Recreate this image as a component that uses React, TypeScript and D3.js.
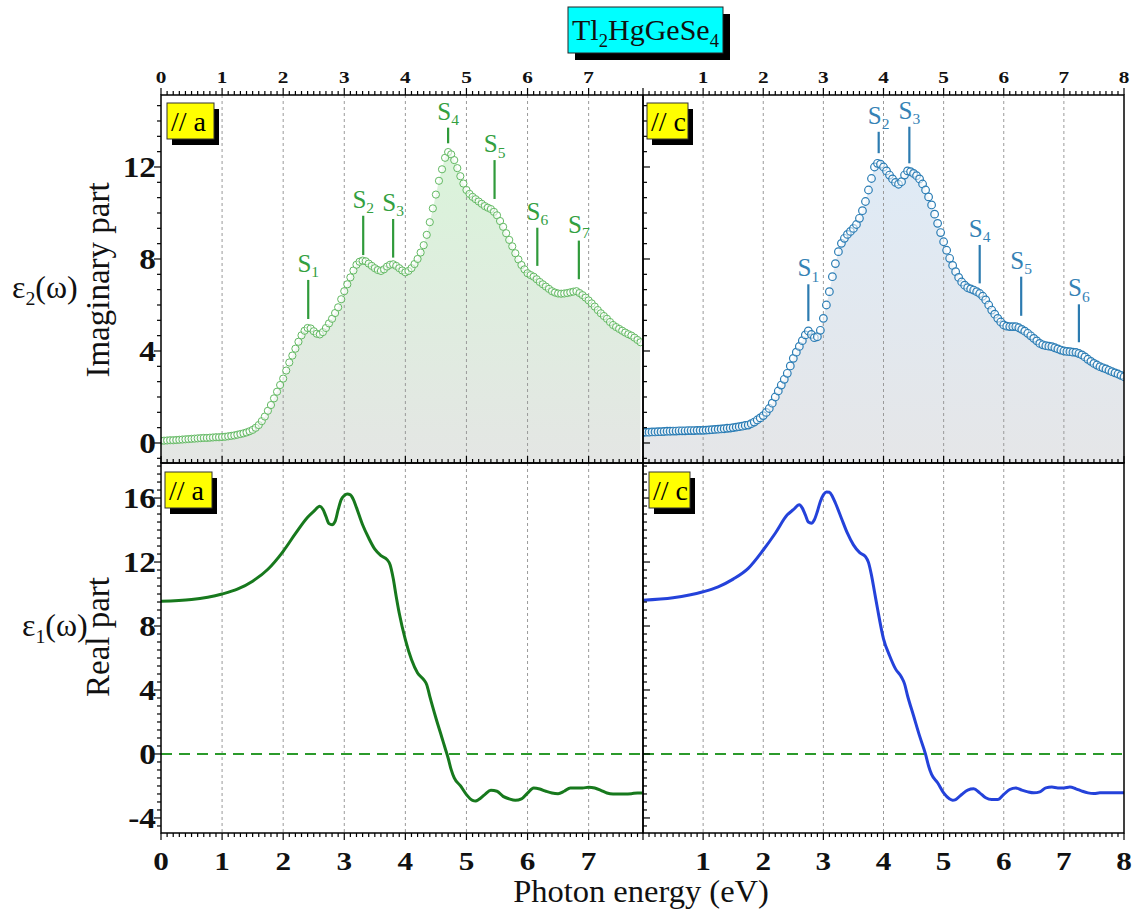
import * as d3 from 'd3';
import { useEffect, useRef } from 'react';

const W = 1146;
const H = 911;
const serif = '"Liberation Serif", "Times New Roman", Times, serif';

// eps2 sampled every 0.05 eV from 0
const e2Step = 0.05;
const eps2A = [
  0.10, 0.10, 0.11, 0.12, 0.12, 0.13, 0.14, 0.15, 0.16, 0.17,
  0.18, 0.19, 0.20, 0.21, 0.22, 0.22, 0.23, 0.24, 0.25, 0.25,
  0.26, 0.27, 0.29, 0.31, 0.33, 0.36, 0.39, 0.42, 0.46, 0.51,
  0.57, 0.66, 0.78, 0.95, 1.15, 1.40, 1.65, 1.94, 2.23, 2.52,
  2.80, 3.15, 3.50, 3.80, 4.10, 4.40, 4.68, 4.88, 5.00, 4.98,
  4.86, 4.75, 4.72, 4.82, 5.00, 5.20, 5.40, 5.65, 5.90, 6.25,
  6.60, 6.90, 7.20, 7.50, 7.75, 7.88, 7.93, 7.90, 7.80, 7.70,
  7.60, 7.52, 7.48, 7.55, 7.67, 7.75, 7.77, 7.70, 7.60, 7.50,
  7.42, 7.48, 7.60, 7.78, 8.00, 8.28, 8.60, 9.05, 9.60, 10.20,
  10.80, 11.40, 11.90, 12.40, 12.65, 12.55, 12.30, 11.95, 11.60, 11.28,
  11.00, 10.83, 10.70, 10.60, 10.50, 10.40, 10.30, 10.23, 10.17, 10.05,
  9.90, 9.65, 9.40, 9.12, 8.83, 8.55, 8.25, 7.98, 7.74, 7.55,
  7.38, 7.30, 7.23, 7.12, 7.00, 6.90, 6.80, 6.70, 6.60, 6.54,
  6.50, 6.49, 6.50, 6.52, 6.55, 6.58, 6.60, 6.52, 6.43, 6.32,
  6.20, 6.07, 5.93, 5.78, 5.64, 5.52, 5.40, 5.26, 5.13, 5.04,
  4.96, 4.88, 4.80, 4.73, 4.67, 4.58, 4.48, 4.38,
];
const eps2C = [
  0.46, 0.47, 0.47, 0.48, 0.48, 0.49, 0.49, 0.50, 0.51, 0.51,
  0.52, 0.52, 0.53, 0.53, 0.53, 0.54, 0.54, 0.54, 0.55, 0.55,
  0.55, 0.56, 0.57, 0.58, 0.59, 0.60, 0.61, 0.62, 0.64, 0.65,
  0.67, 0.69, 0.71, 0.73, 0.76, 0.78, 0.84, 0.91, 1.00, 1.09,
  1.19, 1.33, 1.50, 1.73, 2.00, 2.26, 2.52, 2.77, 3.03, 3.35,
  3.68, 3.95, 4.20, 4.45, 4.70, 4.87, 4.72, 4.58, 4.62, 4.90,
  5.42, 6.00, 6.58, 7.23, 7.80, 8.32, 8.68, 8.90, 9.07, 9.20,
  9.33, 9.50, 9.77, 10.10, 10.50, 11.00, 11.50, 12.00, 12.16, 12.12,
  12.00, 11.83, 11.65, 11.48, 11.33, 11.25, 11.36, 11.65, 11.83, 11.80,
  11.72, 11.62, 11.48, 11.26, 11.00, 10.70, 10.35, 9.95, 9.55, 9.15,
  8.75, 8.38, 8.03, 7.72, 7.45, 7.20, 7.00, 6.86, 6.75, 6.70,
  6.65, 6.58, 6.50, 6.38, 6.22, 6.00, 5.78, 5.60, 5.42, 5.26,
  5.13, 5.08, 5.06, 5.06, 5.06, 5.01, 4.94, 4.86, 4.77, 4.66,
  4.55, 4.44, 4.33, 4.27, 4.23, 4.21, 4.19, 4.14, 4.09, 4.04,
  4.00, 3.98, 3.97, 3.95, 3.94, 3.89, 3.83, 3.74, 3.64, 3.55,
  3.46, 3.39, 3.32, 3.27, 3.22, 3.16, 3.10, 3.05, 3.00, 2.94,
  2.88,
];

// eps1
const eps1AE = [0, 0.5, 1, 1.25, 1.5, 1.75, 2, 2.2, 2.4, 2.5, 2.6, 2.65, 2.7, 2.75, 2.8, 2.85, 2.9, 2.95, 3, 3.05,
  3.1, 3.15, 3.2, 3.3, 3.4, 3.5, 3.6, 3.7, 3.75, 3.8, 3.85, 3.9, 4, 4.1, 4.2, 4.3, 4.35, 4.4, 4.5, 4.6,
  4.65, 4.7, 4.75, 4.8, 4.9, 5, 5.1, 5.15, 5.2, 5.3, 5.4, 5.5, 5.6, 5.7, 5.8, 5.9, 6, 6.1, 6.2, 6.3,
  6.4, 6.5, 6.6, 6.7, 6.8, 6.9, 7, 7.1, 7.2, 7.3, 7.4, 7.5, 7.6, 7.7, 7.8, 7.88];
const eps1AV = [9.54, 9.65, 10.0, 10.3, 10.8, 11.55, 12.67, 13.77, 14.8, 15.17, 15.48, 15.3, 14.85, 14.4, 14.33, 14.54, 15.27, 15.9, 16.15, 16.25,
  16.2, 15.9, 15.4, 14.33, 13.5, 12.8, 12.4, 12.15, 11.83, 11.0, 9.85, 8.8, 7.15, 5.9, 5.06, 4.65, 4.33, 3.6, 2.25, 1.0,
  0.37, -0.25, -0.98, -1.5, -1.98, -2.54, -2.9, -2.94, -2.85, -2.54, -2.27, -2.33, -2.65, -2.81, -2.9, -2.81, -2.44, -2.13, -2.19, -2.33,
  -2.44, -2.48, -2.33, -2.13, -2.13, -2.13, -2.08, -2.13, -2.27, -2.44, -2.5, -2.5, -2.5, -2.48, -2.44, -2.44];
const eps1CE = [0, 0.5, 1, 1.25, 1.5, 1.75, 2, 2.2, 2.4, 2.5, 2.6, 2.65, 2.7, 2.75, 2.8, 2.85, 2.9, 2.95, 3, 3.05,
  3.1, 3.15, 3.2, 3.3, 3.4, 3.5, 3.6, 3.7, 3.75, 3.8, 3.85, 3.9, 4, 4.1, 4.2, 4.3, 4.35, 4.4, 4.5, 4.6,
  4.7, 4.75, 4.8, 4.9, 5, 5.1, 5.15, 5.2, 5.3, 5.4, 5.5, 5.6, 5.7, 5.8, 5.9, 6, 6.1, 6.2, 6.3, 6.4,
  6.5, 6.6, 6.7, 6.8, 6.9, 7, 7.1, 7.2, 7.3, 7.4, 7.5, 7.6, 7.7, 7.8, 8];
const eps1CV = [9.61, 9.76, 10.14, 10.45, 10.93, 11.6, 12.75, 13.8, 14.95, 15.27, 15.58, 15.37, 14.95, 14.5, 14.43, 14.64, 15.16, 15.79, 16.2, 16.38,
  16.36, 16.1, 15.69, 14.74, 13.8, 13.07, 12.6, 12.34, 11.98, 11.18, 10.14, 9.09, 7.2, 6.16, 5.32, 4.8, 4.38, 3.64, 2.39, 1.13,
  -0.02, -0.75, -1.28, -1.8, -2.43, -2.81, -2.89, -2.85, -2.53, -2.26, -2.18, -2.43, -2.74, -2.85, -2.85, -2.53, -2.22, -2.12, -2.26, -2.37,
  -2.43, -2.37, -2.12, -2.07, -2.12, -2.12, -2.07, -2.18, -2.32, -2.43, -2.47, -2.43, -2.43, -2.43, -2.43];

// S peak markers: energy, top and bottom of marker line (eps2 units)
const peaksA = [2.41, 3.31, 3.80, 4.70, 5.46, 6.16, 6.84];
const peakTopA = [7.09, 9.88, 9.74, 13.71, 12.30, 9.36, 8.80];
const peakBotA = [5.39, 8.17, 8.06, 13.03, 10.61, 7.70, 7.12];
const peaksC = [2.75, 3.92, 4.43, 5.60, 6.29, 7.25];
const peakTopC = [6.90, 13.53, 13.75, 8.61, 7.23, 6.03];
const peakBotC = [5.30, 12.60, 12.16, 6.94, 5.53, 4.38];

const xTicksA = [0, 1, 2, 3, 4, 5, 6, 7];
const xTicksC = [1, 2, 3, 4, 5, 6, 7, 8];
const gridX = [1, 2, 3, 4, 5, 6, 7];
const yTicksTop = [0, 4, 8, 12];
const yTicksBot = [-4, 0, 4, 8, 12, 16];

function richText(g: any, x: number, y: number, parts: [string, boolean][], size: number, fill: string, anchor = 'start') {
  const t = g.append('text')
    .attr('x', x).attr('y', y)
    .attr('font-family', serif).attr('font-size', size)
    .attr('fill', fill).attr('text-anchor', anchor);
  let low = false;
  const shift = size * 0.22;
  parts.forEach(([s, sub]) => {
    const sp = t.append('tspan').text(s);
    if (sub) {
      sp.attr('font-size', size * 0.62).attr('dy', low ? 0 : shift);
      low = true;
    } else {
      sp.attr('dy', low ? -shift : 0);
      low = false;
    }
  });
  return t;
}

function App() {
  const ref = useRef<SVGSVGElement>(null);

  useEffect(() => {
    const svg = d3.select(ref.current);
    svg.selectAll('*').remove();

    const xA = d3.scaleLinear().domain([0, 7.89]).range([161, 643]);
    const xC = d3.scaleLinear().domain([0, 8]).range([643, 1124]);
    const yTop = d3.scaleLinear().domain([-0.87, 15.13]).range([463, 95]);
    const yBot = d3.scaleLinear().domain([-4.94, 18.19]).range([833, 463]);

    const defs = svg.append('defs');
    const grad = (id: string, c1: string, c2: string) => {
      const lg = defs.append('linearGradient').attr('id', id)
        .attr('gradientUnits', 'userSpaceOnUse')
        .attr('x1', 0).attr('x2', 0).attr('y1', 120).attr('y2', 463);
      lg.append('stop').attr('offset', '0%').attr('stop-color', c1);
      lg.append('stop').attr('offset', '100%').attr('stop-color', c2);
    };
    grad('gA', '#d9f5d9', '#e4e6e4');
    grad('gC', '#deebf8', '#e5e6e8');

    const clip = (id: string, x: any, y: any) => {
      defs.append('clipPath').attr('id', id).append('rect')
        .attr('x', x.range()[0]).attr('y', y.range()[1])
        .attr('width', x.range()[1] - x.range()[0])
        .attr('height', y.range()[0] - y.range()[1]);
    };
    clip('cTA', xA, yTop);
    clip('cTC', xC, yTop);
    clip('cBA', xA, yBot);
    clip('cBC', xC, yBot);

    const grid = (g: any, x: any, y: any) => {
      g.selectAll('line.grid').data(gridX).enter().append('line')
        .attr('x1', (d: number) => x(d)).attr('x2', (d: number) => x(d))
        .attr('y1', y.range()[1]).attr('y2', y.range()[0])
        .attr('stroke', '#9a9a9a').attr('stroke-width', 1)
        .attr('stroke-dasharray', '3 3');
    };

    const drawTop = (x: any, values: number[], o: any) => {
      const g = svg.append('g').attr('clip-path', `url(#${o.clip})`);
      const pts = values.map((v, i) => [i * e2Step, v]);
      const area = d3.area<number[]>()
        .x((d) => x(d[0])).y0(463).y1((d) => yTop(d[1]))
        .curve(d3.curveMonotoneX);
      g.append('path').datum(pts).attr('d', area).attr('fill', `url(#${o.grad})`);
      grid(g, x, yTop);
      g.selectAll('circle').data(pts).enter().append('circle')
        .attr('cx', (d: number[]) => x(d[0])).attr('cy', (d: number[]) => yTop(d[1]))
        .attr('r', o.r).attr('fill', '#ffffff').attr('fill-opacity', 0.55)
        .attr('stroke', o.stroke).attr('stroke-width', o.sw);

      const lg = svg.append('g');
      o.peaks.forEach((p: number, i: number) => {
        lg.append('line')
          .attr('x1', x(p)).attr('x2', x(p))
          .attr('y1', yTop(o.tops[i])).attr('y2', yTop(o.bots[i]))
          .attr('stroke', o.lineColor).attr('stroke-width', 2.2);
        richText(lg, x(p), yTop(o.tops[i]) - 8, [['S', false], [String(i + 1), true]], 25, o.labelColor, 'middle');
      });
    };

    drawTop(xA, eps2A, {
      clip: 'cTA', grad: 'gA', stroke: '#62b962', sw: 1, r: 3.6,
      peaks: peaksA, tops: peakTopA, bots: peakBotA, lineColor: '#2f9a3a', labelColor: '#33a03f',
    });
    drawTop(xC, eps2C, {
      clip: 'cTC', grad: 'gC', stroke: '#2b7db5', sw: 1.2, r: 3.8,
      peaks: peaksC, tops: peakTopC, bots: peakBotC, lineColor: '#2c7bb0', labelColor: '#3582b5',
    });

    const drawBot = (x: any, es: number[], vs: number[], color: string, clipId: string) => {
      const g = svg.append('g').attr('clip-path', `url(#${clipId})`);
      grid(g, x, yBot);
      g.append('line')
        .attr('x1', x.range()[0]).attr('x2', x.range()[1])
        .attr('y1', yBot(0)).attr('y2', yBot(0))
        .attr('stroke', '#2b9a2b').attr('stroke-width', 2)
        .attr('stroke-dasharray', '11 7');
      const line = d3.line<number>()
        .x((d, i) => x(es[i])).y((d) => yBot(d))
        .curve(d3.curveMonotoneX);
      g.append('path').datum(vs).attr('d', line)
        .attr('fill', 'none').attr('stroke', color).attr('stroke-width', 3)
        .attr('stroke-linejoin', 'round');
    };
    drawBot(xA, eps1AE, eps1AV, '#17791d', 'cBA');
    drawBot(xC, eps1CE, eps1CV, '#2442da', 'cBC');

    // frames
    [[xA, yTop], [xC, yTop], [xA, yBot], [xC, yBot]].forEach(([x, y]: any) => {
      svg.append('rect')
        .attr('x', x.range()[0]).attr('y', y.range()[1])
        .attr('width', x.range()[1] - x.range()[0])
        .attr('height', y.range()[0] - y.range()[1])
        .attr('fill', 'none').attr('stroke', '#000').attr('stroke-width', 1.5);
    });

    // x ticks
    const ticks = svg.append('g').attr('stroke', '#000').attr('stroke-width', 1.2);
    const xTickRow = (x: any, y: number, dir: number) => {
      const max = x.domain()[1];
      d3.range(0, max + 1e-6, 0.1).forEach((v) => {
        const major = Math.abs(v - Math.round(v)) < 1e-6;
        ticks.append('line')
          .attr('x1', x(v)).attr('x2', x(v))
          .attr('y1', y).attr('y2', y + dir * (major ? 7 : 4));
      });
    };
    [xA, xC].forEach((x) => {
      xTickRow(x, 95, -1);
      xTickRow(x, 463, -1);
      xTickRow(x, 833, 1);
    });

    // y ticks
    const yTickCol = (y: any, xPos: number, dir: number, majors: number[], minorStep: number) => {
      const [lo, hi] = y.domain();
      const start = Math.ceil(lo / minorStep) * minorStep;
      d3.range(start, hi, minorStep).forEach((v) => {
        const major = majors.some((m) => Math.abs(m - v) < 1e-6);
        ticks.append('line')
          .attr('x1', xPos).attr('x2', xPos + dir * (major ? 7 : 4))
          .attr('y1', y(v)).attr('y2', y(v));
      });
    };
    yTickCol(yTop, 161, -1, yTicksTop, 2 / 3);
    yTickCol(yBot, 161, -1, yTicksBot, 0.5);
    yTickCol(yTop, 643, 1, yTicksTop, 2 / 3);
    yTickCol(yBot, 643, 1, yTicksBot, 0.5);

    // tick labels (bold digits, a little wider than the plain face)
    const lab = svg.append('g').attr('font-family', serif).attr('font-weight', 'bold').attr('fill', '#111');
    const num = (x: number, y: number, v: number, size: number, sx: number, anchor: string) => {
      lab.append('text')
        .attr('transform', `translate(${x},${y}) scale(${sx},1)`)
        .attr('text-anchor', anchor).attr('font-size', size).text(v);
    };
    [[xA, xTicksA], [xC, xTicksC]].forEach(([x, tv]: any) => {
      tv.forEach((v: number) => {
        num(x(v), 83, v, 17, 1.25, 'middle');
        num(x(v), 870, v, 26, 1.2, 'middle');
      });
    });
    yTicksTop.forEach((v) => num(156, yTop(v) + 10, v, 29, 1.15, 'end'));
    yTicksBot.forEach((v) => num(156, yBot(v) + 10, v, 29, 1.15, 'end'));

    // axis titles
    svg.append('text').attr('x', 641).attr('y', 902).attr('text-anchor', 'middle')
      .attr('font-family', serif).attr('font-size', 32.5).attr('fill', '#111')
      .text('Photon energy (eV)');
    svg.append('text').attr('transform', 'translate(109,280) rotate(-90)')
      .attr('text-anchor', 'middle').attr('font-family', serif).attr('font-size', 33)
      .attr('fill', '#111').text('Imaginary part');
    svg.append('text').attr('transform', 'translate(109,637) rotate(-90)')
      .attr('text-anchor', 'middle').attr('font-family', serif).attr('font-size', 33)
      .attr('fill', '#111').text('Real part');
    richText(svg, 12, 298, [['ε', false], ['2', true], ['(ω)', false]], 32, '#111');
    richText(svg, 22, 636, [['ε', false], ['1', true], ['(ω)', false]], 32, '#111');

    // direction tags
    const tag = (x: number, y: number, w: number, txt: string) => {
      svg.append('rect').attr('x', x + 5).attr('y', y + 6).attr('width', w).attr('height', 36).attr('fill', '#000');
      svg.append('rect').attr('x', x).attr('y', y).attr('width', w).attr('height', 36)
        .attr('fill', '#ffff00').attr('stroke', '#333').attr('stroke-width', 1);
      svg.append('text').attr('x', x + 4).attr('y', y + 28).attr('font-family', serif)
        .attr('font-size', 28).attr('fill', '#000').text(txt);
    };
    tag(167, 103, 47, '// a');
    tag(165, 472, 47, '// a');
    tag(647, 103, 41, '// c');
    tag(649, 472, 41, '// c');

    // title
    svg.append('rect').attr('x', 575).attr('y', 14).attr('width', 155).attr('height', 46).attr('fill', '#000');
    svg.append('rect').attr('x', 568).attr('y', 7).attr('width', 155).attr('height', 46)
      .attr('fill', '#00ffff').attr('stroke', '#222').attr('stroke-width', 1);
    richText(svg, 645.5, 40, [['Tl', false], ['2', true], ['HgGeSe', false], ['4', true]], 30, '#111', 'middle');
  }, []);

  return (
    <svg
      ref={ref}
      width={W}
      height={H}
      style={{ position: 'absolute', left: 0, top: 0, background: '#fff' }}
    />
  );
}

export default App;
